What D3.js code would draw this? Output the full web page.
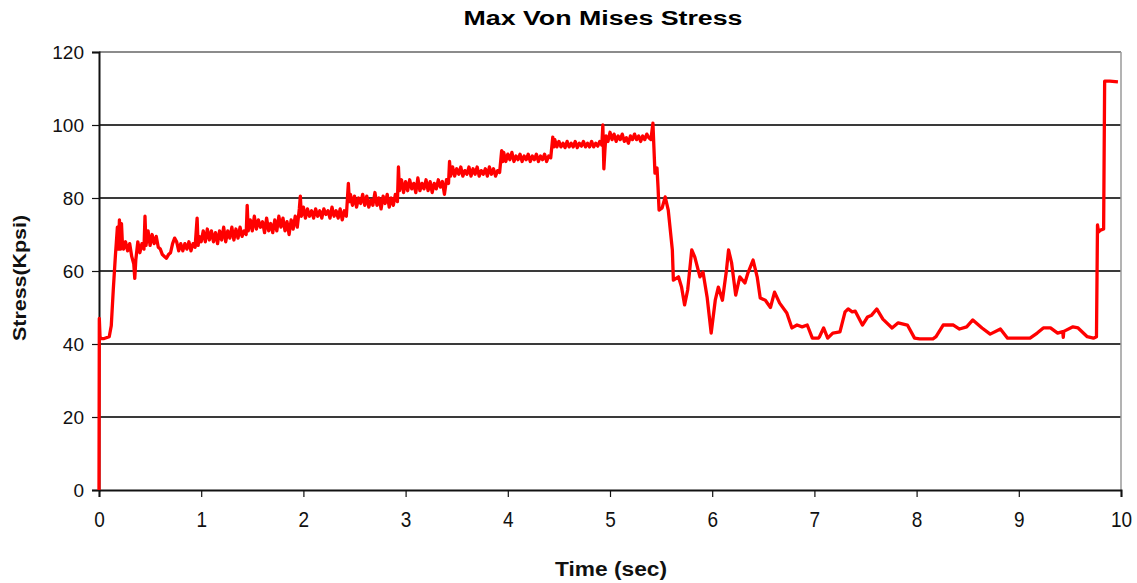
<!DOCTYPE html>
<html>
<head>
<meta charset="utf-8">
<script src="https://cdn.jsdelivr.net/npm/d3@7"></script>
<style>
  body { margin: 0; background: #fff; }
  text { font-family: "Liberation Sans", Arial, sans-serif; }
</style>
</head>
<body>
<div id="my_dataviz"></div>
<script>

// data: [time (sec), stress (Kpsi)]
var startup = [
  [0, 0], [0.003, 47], [0.01, 42], [0.02, 41.5], [0.05, 41.5], [0.1, 42], [0.12, 45],
  [0.14, 55], [0.16, 64], [0.17, 68], [0.18, 72], [0.19, 66]
]

var plateau1 = [
  [0.20, 74], [0.21, 66], [0.22, 73], [0.23, 67], [0.24, 66], [0.26, 68], [0.28, 65.5],
  [0.30, 67.5], [0.32, 64], [0.34, 62], [0.35, 58], [0.36, 63], [0.38, 68], [0.40, 65],
  [0.42, 67.5], [0.44, 66], [0.45, 75], [0.46, 67], [0.48, 71], [0.50, 67], [0.52, 70],
  [0.54, 67.5], [0.56, 69.5], [0.58, 66.5], [0.60, 66], [0.62, 64.5], [0.64, 64], [0.66, 63.5],
  [0.68, 64.5], [0.70, 65], [0.72, 67.5], [0.74, 69], [0.76, 68], [0.78, 65.5], [0.80, 67.5],
  [0.82, 65.5], [0.84, 67.5], [0.86, 66], [0.88, 68], [0.90, 65.5], [0.92, 67.5], [0.94, 66.5],
  [0.96, 74.5], [0.97, 67], [0.98, 69.5], [1.00, 68],
  [1.02, 71], [1.04, 68], [1.06, 71.5], [1.08, 68.5], [1.10, 71], [1.12, 68], [1.14, 70.5],
  [1.16, 67.5], [1.18, 71], [1.20, 68.5], [1.22, 72], [1.24, 68], [1.26, 71], [1.28, 69],
  [1.30, 72], [1.32, 68.5], [1.34, 71.5], [1.36, 69], [1.38, 72], [1.40, 69.5], [1.42, 71],
  [1.44, 70], [1.45, 78], [1.46, 71],
  [1.48, 74], [1.50, 71], [1.52, 75], [1.54, 71.5], [1.56, 74], [1.58, 72], [1.60, 73.5],
  [1.62, 70.5], [1.64, 74.5], [1.66, 71], [1.68, 73], [1.70, 70.5], [1.72, 74], [1.74, 71],
  [1.76, 75], [1.78, 72], [1.80, 74.5], [1.82, 71], [1.84, 73.5], [1.86, 70], [1.88, 74],
  [1.90, 71.5], [1.92, 75], [1.94, 72], [1.96, 77], [1.97, 80.5], [1.98, 75]
]

var plateau2 = [
  [2.00, 77.5], [2.02, 74.5], [2.04, 77], [2.06, 75], [2.08, 76.5], [2.10, 74.5], [2.12, 77],
  [2.14, 75], [2.16, 76.5], [2.18, 74.5], [2.20, 77], [2.22, 75.5], [2.24, 76.5], [2.26, 74.5],
  [2.28, 77.5], [2.30, 75], [2.32, 76.5], [2.34, 74.5], [2.36, 77], [2.38, 74], [2.40, 76.5],
  [2.42, 75], [2.44, 84], [2.45, 79],
  [2.46, 81], [2.48, 78], [2.50, 80.5], [2.52, 77.5], [2.54, 80], [2.56, 78.5], [2.58, 81],
  [2.60, 78], [2.62, 80.5], [2.64, 77.5], [2.66, 79.5], [2.68, 78], [2.70, 81.5], [2.72, 78],
  [2.74, 80], [2.76, 77], [2.78, 80.5], [2.80, 78.5], [2.82, 81], [2.84, 77.5], [2.86, 80],
  [2.88, 78], [2.90, 81], [2.92, 79], [2.93, 88.5], [2.94, 82],
  [2.96, 85], [2.98, 81.5], [3.00, 84.5], [3.02, 82], [3.04, 85], [3.06, 82.5], [3.08, 84],
  [3.10, 81.5], [3.12, 85.5], [3.14, 82], [3.16, 84], [3.18, 82.5], [3.20, 85], [3.22, 82],
  [3.24, 84.5], [3.26, 81.5], [3.28, 84], [3.30, 82.5], [3.32, 85], [3.34, 83], [3.36, 84.5],
  [3.38, 81], [3.40, 85], [3.42, 84], [3.43, 90], [3.44, 86]
]

var plateau3 = [
  [3.46, 88.5], [3.48, 86], [3.50, 88], [3.52, 86.5], [3.54, 88.5], [3.56, 86], [3.58, 87.5],
  [3.60, 86.5], [3.62, 88.5], [3.64, 86], [3.66, 88], [3.68, 86.5], [3.70, 88.5], [3.72, 86],
  [3.74, 87.5], [3.76, 86.5], [3.78, 88], [3.80, 86], [3.82, 88.5], [3.84, 86.5], [3.86, 88],
  [3.88, 86], [3.90, 87.5], [3.92, 87], [3.94, 93], [3.95, 90],
  [3.96, 92.5], [3.98, 90], [4.00, 92], [4.02, 90.5], [4.04, 92.5], [4.06, 90], [4.08, 91.5],
  [4.10, 90.5], [4.12, 92], [4.14, 90], [4.16, 91.5], [4.18, 90.5], [4.20, 92], [4.22, 90],
  [4.24, 91.5], [4.26, 90.5], [4.28, 92], [4.30, 90], [4.32, 91.5], [4.34, 90.5], [4.36, 92],
  [4.38, 90], [4.40, 91.5], [4.42, 91], [4.44, 96.7], [4.45, 94],
  [4.46, 96], [4.48, 94], [4.50, 95.5], [4.52, 94], [4.54, 95], [4.56, 93.8], [4.58, 95.5],
  [4.60, 94], [4.62, 95], [4.64, 94], [4.66, 95.5], [4.68, 93.8], [4.70, 95], [4.72, 94.2],
  [4.74, 95.5], [4.76, 94], [4.78, 95], [4.80, 94], [4.82, 95.5], [4.84, 94], [4.86, 95],
  [4.88, 94.2], [4.90, 95.5], [4.92, 94.5], [4.93, 100], [4.94, 88], [4.95, 93],
  [4.96, 97], [4.98, 95.5], [5.00, 98], [5.02, 96], [5.04, 97.5], [5.06, 95.5], [5.08, 97],
  [5.10, 96], [5.12, 97.5], [5.14, 95.5], [5.16, 96.5], [5.18, 95], [5.20, 97], [5.22, 96],
  [5.24, 97.5], [5.26, 96], [5.28, 97], [5.30, 95.5], [5.32, 97], [5.34, 96], [5.36, 97.5],
  [5.38, 96.5], [5.40, 96], [5.42, 100.5]
]

var dropOff = [
  [5.44, 86.8], [5.46, 88.2], [5.47, 83], [5.48, 76.7], [5.51, 77.3], [5.54, 80.3], [5.57, 76.7],
  [5.61, 65.8], [5.62, 57.5], [5.67, 58.4], [5.70, 55.6], [5.73, 50.7], [5.76, 54.8], [5.80, 65.8],
  [5.83, 63.8], [5.88, 58.4], [5.91, 59.7], [5.95, 52.9], [5.99, 43], [6.03, 52], [6.06, 55.6],
  [6.10, 52], [6.14, 60.3], [6.16, 65.8], [6.19, 62.2], [6.23, 53.4], [6.27, 58.4], [6.32, 56.7],
  [6.35, 59.5], [6.40, 63], [6.44, 58.4], [6.47, 52.6], [6.52, 52], [6.57, 50], [6.61, 54.2],
  [6.66, 51.2], [6.73, 48.5], [6.78, 44.4], [6.83, 45.2], [6.88, 44.7], [6.93, 45.2],
  [6.98, 41.6], [7.04, 41.6]
]

var tail = [
  [7.05, 42], [7.09, 44.4], [7.13, 41.6], [7.18, 43], [7.25, 43.3], [7.30, 48.8], [7.33, 49.6],
  [7.37, 48.8], [7.40, 49], [7.47, 45.2], [7.52, 47.4], [7.56, 47.9], [7.61, 49.6], [7.67, 46.8],
  [7.76, 44.4], [7.82, 45.8], [7.91, 45.2], [7.98, 41.6], [8.03, 41.4], [8.16, 41.4], [8.19, 42],
  [8.26, 45.2], [8.36, 45.2], [8.42, 44.1], [8.49, 44.7], [8.55, 46.6], [8.64, 44.4], [8.72, 42.7],
  [8.82, 44.1], [8.89, 41.6], [9.11, 41.6], [9.18, 43], [9.24, 44.4], [9.31, 44.4], [9.38, 43],
  [9.43, 43.4], [9.435, 41.8], [9.44, 43.4], [9.45, 43.6], [9.53, 44.7], [9.58, 44.4], [9.67, 42],
  [9.73, 41.6], [9.76, 42]
]

var finalJump = [
  [9.77, 72.6], [9.78, 70.7], [9.80, 71.2], [9.83, 71.5], [9.84, 112], [9.89, 112], [9.97, 111.8]
]

var xTicks = [0, 1, 2, 3, 4, 5, 6, 7, 8, 9, 10]
var yTicks = [0, 20, 40, 60, 80, 100, 120]

var series = startup.concat(plateau1, plateau2, plateau3, dropOff, tail, finalJump)

// set the dimensions and margins of the graph
var margin = {top: 52, right: 16, bottom: 93, left: 99},
    width = 1137 - margin.left - margin.right,
    height = 583 - margin.top - margin.bottom;

var svg = d3.select("#my_dataviz")
  .append("svg")
    .attr("width", 1137)
    .attr("height", 583)
  .append("g")
    .attr("transform", "translate(" + margin.left + "," + margin.top + ")");

// scales
var x = d3.scaleLinear()
  .domain([0, 10])
  .range([0, width]);

var y = d3.scaleLinear()
  .domain([0, 120])
  .range([height, 0]);

// horizontal grid lines
svg.append("g")
  .selectAll("line")
  .data(yTicks.filter(function(d) { return d > 0; }))
  .enter().append("line")
    .attr("x1", 0)
    .attr("x2", width)
    .attr("y1", function(d) { return y(d); })
    .attr("y2", function(d) { return y(d); })
    .attr("stroke", function(d) { return d == 120 ? "#8c8c8c" : "#3a3a3a"; })
    .attr("stroke-width", 2);

// right border
svg.append("line")
  .attr("x1", width).attr("x2", width)
  .attr("y1", 0).attr("y2", height)
  .attr("stroke", "#9a9a9a")
  .attr("stroke-width", 1.5);

// X axis
var xAxis = svg.append("g")
  .attr("transform", "translate(0," + height + ")")
  .call(d3.axisBottom(x).tickValues(xTicks).tickSize(7).tickPadding(12).tickFormat(d3.format("d")));
xAxis.select(".domain").attr("stroke", "#111").attr("stroke-width", 2);
xAxis.selectAll("line").attr("stroke", "#111").attr("stroke-width", 1.2);
xAxis.selectAll("text")
  .attr("font-size", 19)
  .attr("fill", "#111")
  .attr("transform", "scale(1,1.15)");

// Y axis
var yAxis = svg.append("g")
  .call(d3.axisLeft(y).tickValues(yTicks).tickSize(7).tickPadding(8).tickFormat(d3.format("d")));
yAxis.select(".domain").attr("stroke", "#111").attr("stroke-width", 2);
yAxis.selectAll("line").attr("stroke", "#111").attr("stroke-width", 1.2);
yAxis.selectAll("text")
  .attr("font-size", 19)
  .attr("fill", "#111");

// the stress line
var line = d3.line()
  .x(function(d) { return x(d[0]); })
  .y(function(d) { return y(d[1]); });

svg.append("path")
  .datum(series)
  .attr("d", line)
  .attr("fill", "none")
  .attr("stroke", "#ff0000")
  .attr("stroke-width", 3.3)
  .attr("stroke-linejoin", "round");

// titles
svg.append("text")
  .attr("x", 603 - margin.left)
  .attr("y", 25 - margin.top)
  .attr("text-anchor", "middle")
  .attr("font-size", 20)
  .attr("font-weight", "bold")
  .attr("textLength", 279)
  .attr("lengthAdjust", "spacingAndGlyphs")
  .attr("fill", "#000")
  .text("Max Von Mises Stress");

svg.append("text")
  .attr("x", 611 - margin.left)
  .attr("y", 576 - margin.top)
  .attr("text-anchor", "middle")
  .attr("font-size", 20)
  .attr("font-weight", "bold")
  .attr("textLength", 112)
  .attr("lengthAdjust", "spacingAndGlyphs")
  .attr("fill", "#111")
  .text("Time (sec)");

svg.append("text")
  .attr("transform", "translate(" + (26 - margin.left) + "," + (278 - margin.top) + ") rotate(-90)")
  .attr("text-anchor", "middle")
  .attr("font-size", 19)
  .attr("font-weight", "bold")
  .attr("textLength", 126)
  .attr("lengthAdjust", "spacingAndGlyphs")
  .attr("fill", "#111")
  .text("Stress(Kpsi)");

</script>
</body>
</html>
